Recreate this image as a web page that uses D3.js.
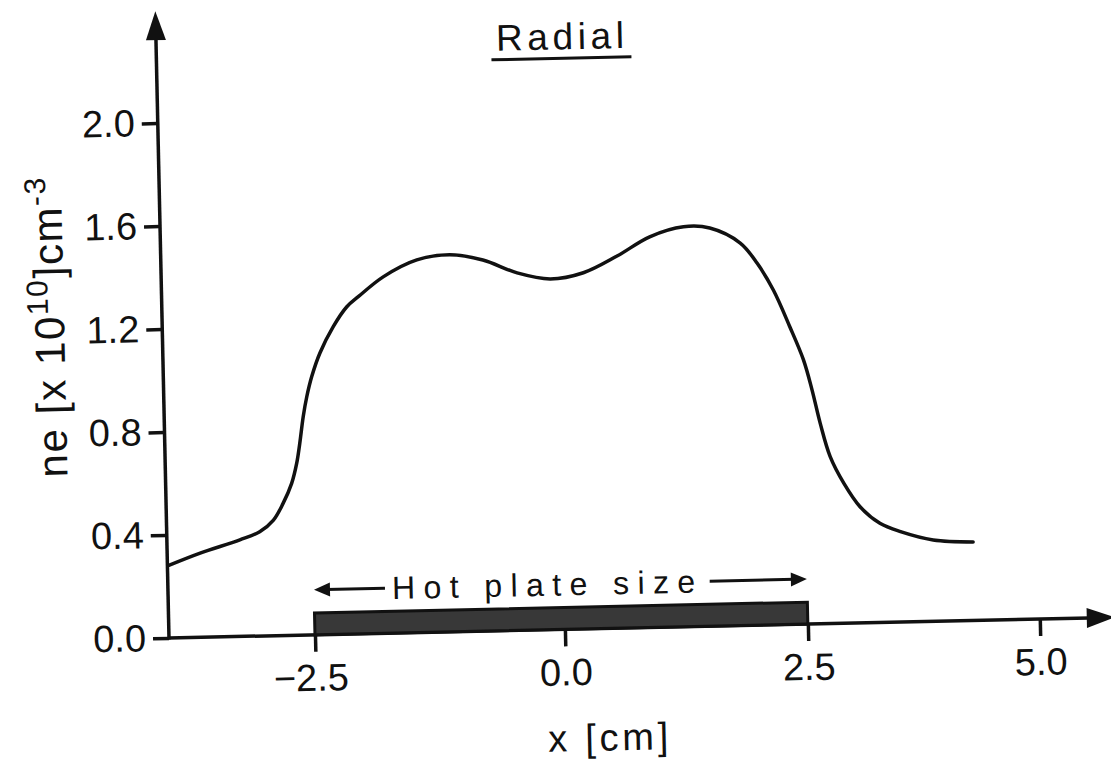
<!DOCTYPE html>
<html>
<head>
<meta charset="utf-8">
<script src="https://cdn.jsdelivr.net/npm/d3@7"></script>
<style>
  body { margin: 0; background: #fff; }
  text { font-family: "Liberation Sans", Arial, sans-serif; fill: #111; }
</style>
</head>
<body>
<div id="chart"></div>
<script>
// radial profile of n_e
var xPos = [-3.94, -3.63, -3.23, -3.03, -2.89, -2.79, -2.70, -2.645, -2.61, -2.57, -2.53, -2.476, -2.39,
    -2.25, -2.11, -1.99, -1.74, -1.40, -1.07, -0.74, -0.40, -0.07, 0.27, 0.62, 0.96, 1.31, 1.58, 1.89,
    2.06, 2.22, 2.38, 2.515, 2.60, 2.68, 2.78, 2.92, 3.09, 3.30, 3.52, 3.87, 4.30];
var neVal = [0.283, 0.327, 0.375, 0.405, 0.449, 0.513, 0.590, 0.668, 0.745, 0.848, 0.925, 1.003, 1.093,
    1.195, 1.271, 1.310, 1.384, 1.447, 1.464, 1.441, 1.388, 1.362, 1.383, 1.445, 1.517, 1.553, 1.546, 1.485,
    1.405, 1.300, 1.157, 1.026, 0.909, 0.779, 0.648, 0.544, 0.451, 0.385, 0.351, 0.316, 0.305];
var xTicks = [-2.5, 0.0, 2.5, 5.0];
var yTicks = [0.0, 0.4, 0.8, 1.2, 1.6, 2.0];
var plate = [-2.5, 2.5];      // hot plate extent in cm
var plateHeight = 0.085;      // drawn thickness of the plate bar

var w = 1111, h = 760;
var svg = d3.select('#chart').append('svg')
    .attr('width', w)
    .attr('height', h);

// the scanned figure is slightly rotated, so everything sits in a tilted group
var g = svg.append('g')
    .attr('transform', 'translate(169,638) rotate(-1.25)');

// tick spacing on the scan is not quite even, so a piecewise scale
var xscale = d3.scaleLinear()
    .domain([-2.5, 0, 2.5, 5])
    .range([146, 396, 639, 871]);
var yscale = d3.scaleLinear()
    .domain([0, 2])
    .range([0, -515]);

// axis lines with arrow heads
g.append('line')
    .attr('x1', 0).attr('y1', 0).attr('x2', 920).attr('y2', 0)
    .attr('stroke', '#111').attr('stroke-width', 3.5);
g.append('path')
    .attr('d', 'M918,-10 L946,0 L918,10 Z')
    .attr('fill', '#111');
g.append('line')
    .attr('x1', 0).attr('y1', 1.5).attr('x2', 0).attr('y2', -600)
    .attr('stroke', '#111').attr('stroke-width', 3.5);
g.append('path')
    .attr('d', 'M-10,-598 L0,-627 L10,-598 Z')
    .attr('fill', '#111');

var xAxis = d3.axisBottom(xscale)
    .tickValues(xTicks)
    .tickSize(17)
    .tickPadding(12)
    .tickFormat(d3.format('.1f'));
var x_g = g.append('g').attr('class', 'xaxis').call(xAxis);
x_g.select('.domain').remove();
x_g.selectAll('line').attr('stroke', '#111').attr('stroke-width', 3.5);
x_g.selectAll('text')
    .attr('fill', '#111')
    .attr('font-size', '38px')
    .attr('font-family', '"Liberation Sans", Arial, sans-serif')
    .attr('dx', function (d) { return d < 0 ? -5 : 0; })
    .text(function (d) { return d3.format('.1f')(d).replace('-', '\u2212'); });

var yAxis = d3.axisLeft(yscale)
    .tickValues(yTicks)
    .tickSize(16)
    .tickPadding(7)
    .tickFormat(d3.format('.1f'));
var y_g = g.append('g').attr('class', 'yaxis').call(yAxis);
y_g.select('.domain').remove();
y_g.selectAll('line').attr('stroke', '#111').attr('stroke-width', 3.5);
y_g.selectAll('text')
    .attr('fill', '#111')
    .attr('font-size', '38px')
    .attr('font-family', '"Liberation Sans", Arial, sans-serif');

// hot plate bar
g.append('rect')
    .attr('x', xscale(plate[0]))
    .attr('y', yscale(plateHeight))
    .attr('width', xscale(plate[1]) - xscale(plate[0]))
    .attr('height', yscale(0) - yscale(plateHeight))
    .attr('fill', '#383838')
    .attr('stroke', '#111')
    .attr('stroke-width', 3);

// "Hot plate size" annotation with arrows
var annY = -45;
g.append('line')
    .attr('x1', xscale(plate[0]) + 12).attr('y1', annY)
    .attr('x2', xscale(-1.79)).attr('y2', annY)
    .attr('stroke', '#111').attr('stroke-width', 3);
g.append('path')
    .attr('d', 'M' + xscale(plate[0]) + ',' + annY + ' l16,-7 l0,14 Z')
    .attr('fill', '#111');
g.append('line')
    .attr('x1', xscale(1.50)).attr('y1', annY)
    .attr('x2', xscale(plate[1]) - 12).attr('y2', annY)
    .attr('stroke', '#111').attr('stroke-width', 3);
g.append('path')
    .attr('d', 'M' + xscale(plate[1]) + ',' + annY + ' l-16,-7 l0,14 Z')
    .attr('fill', '#111');
g.append('text')
    .attr('x', xscale(-1.72))
    .attr('y', -34)
    .attr('font-size', '32px')
    .attr('textLength', xscale(1.35) - xscale(-1.72))
    .attr('lengthAdjust', 'spacing')
    .text('Hot plate  size');

// the profile curve
var dataset = xPos.map(function (d, i) { return {x: d, v: neVal[i]}; });
var line = d3.line()
    .x(function (d) { return xscale(d.x); })
    .y(function (d) { return yscale(d.v); })
    .curve(d3.curveCatmullRom);
g.append('path')
    .attr('d', line(dataset))
    .attr('fill', 'none')
    .attr('stroke', '#111')
    .attr('stroke-width', 3.5)
    .attr('stroke-linecap', 'round');

// title with underline
g.append('text')
    .attr('x', 404)
    .attr('y', -580)
    .attr('text-anchor', 'middle')
    .attr('font-size', '37px')
    .attr('textLength', 128)
    .attr('lengthAdjust', 'spacing')
    .text('Radial');
g.append('line')
    .attr('x1', 335).attr('y1', -571).attr('x2', 475).attr('y2', -571)
    .attr('stroke', '#111').attr('stroke-width', 3);

// x label
g.append('text')
    .attr('x', 437)
    .attr('y', 122)
    .attr('text-anchor', 'middle')
    .attr('font-size', '38px')
    .attr('textLength', 120)
    .attr('lengthAdjust', 'spacing')
    .text('x [cm]');

// y label
var ylab = g.append('text')
    .attr('transform', 'translate(-98,-313) rotate(-90)')
    .attr('text-anchor', 'middle')
    .attr('font-size', '42px')
    .attr('textLength', 300)
    .attr('lengthAdjust', 'spacing');
ylab.append('tspan').text('ne [x 10');
ylab.append('tspan').attr('dy', -16).attr('font-size', '30px').text('10');
ylab.append('tspan').attr('dy', 16).text(']cm');
ylab.append('tspan').attr('dy', -16).attr('font-size', '30px').text('-3');
</script>
</body>
</html>
